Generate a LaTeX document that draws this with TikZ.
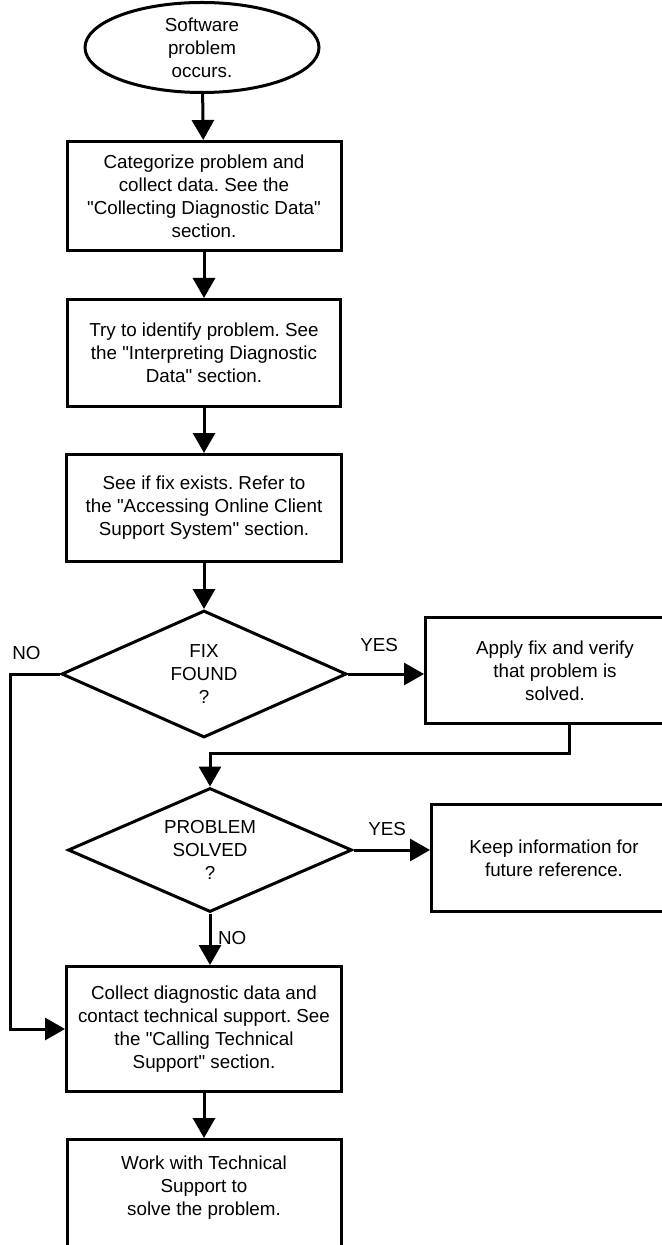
\documentclass[tikz,border=0pt]{standalone}
\usepackage{fontspec}
\setmainfont{Liberation Sans}
\usetikzlibrary{shapes.geometric}
\usetikzlibrary{arrows.meta}
\frenchspacing

\begin{document}
\begin{tikzpicture}[x=0.5pt, y=-0.5pt, line width=1.5pt,
        every node/.style={font=\fontsize{9.4pt}{11.5pt}\selectfont, align=center},
        box/.style={draw, rectangle, inner sep=0pt},
        decision/.style={draw, diamond, inner sep=0pt, aspect=2.2},
        flow/.style={-{Triangle[length=10pt,width=11pt]}}]
            \useasboundingbox (0,0) rectangle (662,1245);

            \node[draw, ellipse, inner sep=0pt, minimum width=117pt, minimum height=45pt] (start) at (202, 47.5) {Software\\problem\\occurs.};
            \node[box, minimum width=137pt, minimum height=54.5pt] (categ) at (204, 196) {Categorize problem and\\collect data. See the\\\textquotedbl Collecting Diagnostic Data\textquotedbl\\section.};
            \node[box, minimum width=136.5pt, minimum height=53.5pt] (ident) at (204, 353) {Try to identify problem. See\\the \textquotedbl Interpreting Diagnostic\\Data\textquotedbl{} section.};
            \node[box, minimum width=137.5pt, minimum height=53.5pt] (fixex) at (204, 508) {See if fix exists. Refer to\\the \textquotedbl Accessing Online Client\\Support System\textquotedbl{} section.};
            \node[decision, minimum width=142.5pt, minimum height=63.5pt] (found) at (204, 674) {FIX\\FOUND\\?};
            \node[box, minimum width=129.5pt, minimum height=53pt] (apply) at (555, 670.5) {Apply fix and verify\\that problem is\\solved.};
            \node[decision, minimum width=142pt, minimum height=62pt] (solved) at (210, 850) {PROBLEM\\SOLVED\\?};
            \node[box, minimum width=122.5pt, minimum height=53.5pt] (keep) at (554, 858) {Keep information for\\future reference.};
            \node[box, minimum width=137.5pt, minimum height=62.5pt] (contact) at (204, 1029) {Collect diagnostic data and\\contact technical support. See\\the \textquotedbl Calling Technical\\Support\textquotedbl{} section.};
            \node[box, minimum width=137pt, minimum height=65pt] (work) at (204, 1204.5) {Work with Technical\\Support to\\solve the problem.\\[7pt]\mbox{}};

            % main column
            \draw[flow] (start) -- (categ);
            \draw[flow] (categ) -- (ident);
            \draw[flow] (ident) -- (fixex);
            \draw[flow] (fixex) -- (found);
            \draw[flow] (contact) -- (work);

            % decisions
            \draw[flow] (found.east) -- node[above=7pt, pos=0.41] {YES} (found.east -| apply.west);
            \draw[flow] (found.west) -- node[above=3pt, pos=0.67] {NO} ++(-50,0) |- (contact.west);
            \draw[flow] ([xshift=7pt]apply.south) -- ++(0,28) -| (solved.north);
            \draw[flow] (solved.east) -- node[above=3pt, pos=0.44] {YES} (solved.east -| keep.west);
            \draw[flow] (solved.south) -- node[right, pos=0.47] {NO} (solved.south |- contact.north);
        \end{tikzpicture}
\end{document}
